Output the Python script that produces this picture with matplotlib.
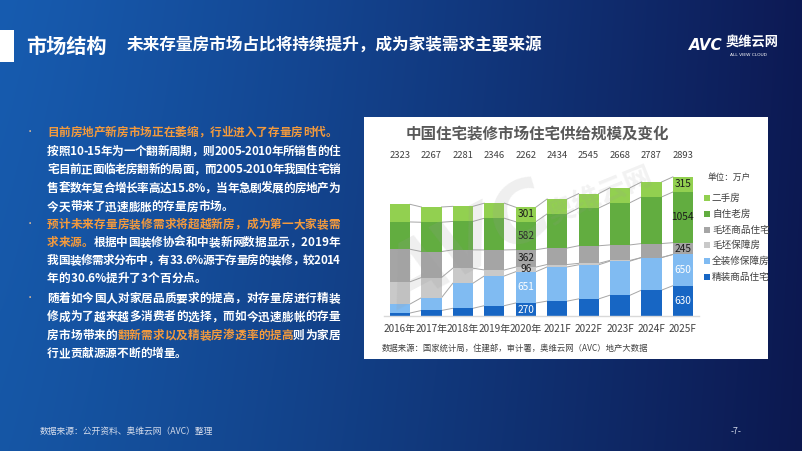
import numpy as np
import matplotlib
matplotlib.use("Agg")
from matplotlib import pyplot as plt
from matplotlib.patches import Rectangle

plt.rcParams['font.family'] = ['Noto Sans CJK SC', 'DejaVu Sans']

W, H = 802, 451

# ---- data (万户) ----
years = ['2016年', '2017年', '2018年', '2019年', '2020年',
         '2021F', '2022F', '2023F', '2024F', '2025F']
totals = [2323, 2267, 2281, 2346, 2262, 2434, 2545, 2668, 2787, 2893]
jingzhuang_sp = [62, 115, 160, 215, 270, 310, 356, 433, 538, 630]      # 精装商品住宅
quanzhuang_bz = [187, 265, 521, 618, 651, 711, 709, 709, 678, 650]     # 全装修保障房
maopi_bz = [463, 420, 313, 125, 96, 50, 30, 15, 0, 0]                  # 毛坯保障房
maopi_sp = [677, 540, 382, 416, 362, 343, 366, 322, 291, 245]          # 毛坯商品住宅
zizhu_lf = [567, 610, 591, 659, 582, 710, 785, 879, 969, 1054]         # 自住老房
ershou = [367, 317, 314, 313, 301, 310, 299, 310, 311, 315]            # 二手房

series_names = ['精装商品住宅', '全装修保障房', '毛坯保障房', '毛坯商品住宅', '自住老房', '二手房']
series_vals = [jingzhuang_sp, quanzhuang_bz, maopi_bz, maopi_sp, zizhu_lf, ershou]
colors = ['#1766C4', '#80BBF2', '#C9C9C9', '#A5A5A5', '#62AD40', '#92D050']
label_colors = ['white', 'white', '#1a1a1a', '#1a1a1a', '#1a1a1a', '#1a1a1a']
label_idx = [4, 9]


def fx(x):
    return x / W


def fy(y):
    return 1 - y / H


fig = plt.figure(figsize=(W / 100, H / 100), dpi=100)

# background gradient
bg = fig.add_axes([0, 0, 1, 1])
bg.set_zorder(-3)
t = np.linspace(0, 1, W)[None, :] ** 1.15
v = np.linspace(0, 1, H)[:, None]
left = np.array([0.09, 0.36, 0.69])
right = np.array([0.05, 0.10, 0.33])
img = left[None, None, :] * (1 - t[..., None]) + right[None, None, :] * t[..., None]
img = img * (1 - 0.06 * v[..., None])
bg.imshow(img, extent=[0, W, H, 0], aspect='auto')
bg.set_xlim(0, W)
bg.set_ylim(H, 0)
bg.axis('off')

# header
fig.add_artist(Rectangle((0, fy(62)), fx(14), (62 - 30) / H, transform=fig.transFigure,
                         facecolor='white', edgecolor='none'))
fig.text(fx(26), fy(46), '市场结构', color='white', fontsize=14.5, fontweight='bold', va='center')
fig.text(fx(127), fy(46), '未来存量房市场占比将持续提升，成为家装需求主要来源', color='white',
         fontsize=12, fontweight='bold', va='center')

# logo
fig.text(fx(689), fy(45), 'AVC', color='white', fontsize=11, fontweight='bold', style='italic',
         va='center', family='DejaVu Sans')
fig.text(fx(726), fy(42), '奥维云网', color='white', fontsize=9.5, fontweight='bold', va='center')
fig.text(fx(730), fy(55), 'ALL VIEW CLOUD', color='white', fontsize=3.2, va='center', family='DejaVu Sans')

# white panel (behind chart axes)
fig.add_artist(Rectangle((fx(364), fy(359)), (768 - 364) / W, (359 - 117) / H, transform=fig.transFigure,
                         facecolor='white', edgecolor='none', zorder=-2))

# left text: (segments, justify)
orange = '#F39A3D'
white = 'white'
paras = [
    (132, 18.6, [
        ([('目前房地产新房市场正在萎缩，行业进入了存量房时代。', orange)], False),
        ([('按照10-15年为一个翻新周期，则2005-2010年所销售的住', white)], True),
        ([('宅目前正面临老房翻新的局面，而2005-2010年我国住宅销', white)], True),
        ([('售套数年复合增长率高达15.8%，当年急剧发展的房地产为', white)], True),
        ([('今天带来了迅速膨胀的存量房市场。', white)], False),
    ]),
    (224, 17.9, [
        ([('预计未来存量房装修需求将超越新房，成为第一大家装需', orange)], True),
        ([('求来源。', orange), ('根据中国装修协会和中装新网数据显示，2019年', white)], True),
        ([('我国装修需求分布中，有33.6%源于存量房的装修，较2014', white)], True),
        ([('年的30.6%提升了3个百分点。', white)], False),
    ]),
    (298, 18.4, [
        ([('随着如今国人对家居品质要求的提高，对存量房进行精装', white)], True),
        ([('修成为了越来越多消费者的选择，而如今迅速膨帐的存量', white)], True),
        ([('房市场带来的', white), ('翻新需求以及精装房渗透率的提高', orange), ('则为家居', white)], True),
        ([('行业贡献源源不断的增量。', white)], False),
    ]),
]

x_left, x_right = 47, 340
fs_body = 8.4
renderer = fig.canvas.get_renderer()
for y0, dy, lines in paras:
    fig.text(fx(30), fy(y0), '•', color='#F3C79A', fontsize=6, va='center', ha='center')
    for j, (segs, justify) in enumerate(lines):
        yy = fy(y0 + j * dy + 4)
        chars = [(ch, c) for s, c in segs for ch in s]
        widths = []
        for ch, c in chars:
            probe = fig.text(0, 0, ch, fontsize=fs_body, fontweight='bold')
            widths.append(probe.get_window_extent(renderer).width)
            probe.remove()
        gap = 0
        if justify:
            gap = (x_right - x_left - sum(widths)) / (len(chars) - 1)
        x = x_left
        for (ch, c), w in zip(chars, widths):
            fig.text(fx(x), yy, ch, color=c, fontsize=fs_body, fontweight='bold', va='baseline')
            x += w + gap

fig.text(fx(40), fy(431), '数据来源：公开资料、奥维云网（AVC）整理', color='#D5DCEB', fontsize=6.3, va='center')
fig.text(fx(736), fy(431), '-7-', color='#D5DCEB', fontsize=6.3, va='center', ha='center')

# chart
step = 31.44
ax = fig.add_axes([fx(400 - step / 2), fy(316), 10 * step / W, 156 / H])
ax.set_xlim(-0.5, 9.5)
ax.set_ylim(0, 156 * 20.8)
ax.patch.set_alpha(0)
for sp in ['top', 'right', 'left']:
    ax.spines[sp].set_visible(False)
ax.spines['bottom'].set_color('#D9D9D9')
ax.spines['bottom'].set_linewidth(1)
ax.set_xticks([])
ax.set_yticks([])

x = np.arange(len(years))
bw = 0.64
bottom = np.zeros(len(years))
cums = []
for k, vals in enumerate(series_vals):
    vals = np.array(vals, dtype=float)
    ax.bar(x, vals, bw, bottom=bottom, color=colors[k], zorder=2)
    for i in label_idx:
        if vals[i] > 0:
            ax.text(i, bottom[i] + vals[i] / 2, str(int(vals[i])), ha='center', va='center',
                    fontsize=7.3, color=label_colors[k], zorder=3)
    bottom = bottom + vals
    cums.append(bottom.copy())

# series lines
for cum in cums:
    for i in range(len(years) - 1):
        ax.plot([i + bw / 2, i + 1 - bw / 2], [cum[i], cum[i + 1]], color='#A6A6A6', lw=0.7, zorder=1)

tr = ax.get_xaxis_transform()
for i in x:
    ax.text(i, (316 - 155) / 156, str(totals[i]), transform=tr, ha='center', va='center',
            fontsize=6.8, color='#404040', clip_on=False)
    ax.text(i, (316 - 329) / 156, years[i], transform=tr, ha='center', va='center',
            fontsize=7.2, color='#404040', clip_on=False)

# watermark
fig.text(fx(470), fy(250), 'AVC', color='#9A9A9A', alpha=0.16, fontsize=58, fontweight='bold',
         style='italic', rotation=28, ha='center', va='center', family='DejaVu Sans')
fig.text(fx(600), fy(195), '奥维云网', color='#9A9A9A', alpha=0.13, fontsize=20, fontweight='bold',
         rotation=22, ha='center', va='center')

# title
fig.text(fx(537), fy(133), '中国住宅装修市场住宅供给规模及变化', color='#595959', fontsize=11.2,
         fontweight='bold', ha='center', va='center')

# legend
fig.text(fx(708), fy(177), '单位：万户', color='#404040', fontsize=6.2, va='center')
leg_y = [277, 261, 245, 230, 214, 198]
for k in range(6):
    fig.add_artist(Rectangle((fx(704), fy(leg_y[k] + 3)), 6 / W, 6 / H, transform=fig.transFigure,
                             facecolor=colors[k], edgecolor='none'))
    fig.text(fx(712), fy(leg_y[k]), series_names[k], color='#404040', fontsize=6.9, va='center')

fig.text(fx(382), fy(348), '数据来源：国家统计局，住建部，审计署，奥维云网（AVC）地产大数据',
         color='#404040', fontsize=6, va='center')

fig.savefig('out.png', dpi=100)
